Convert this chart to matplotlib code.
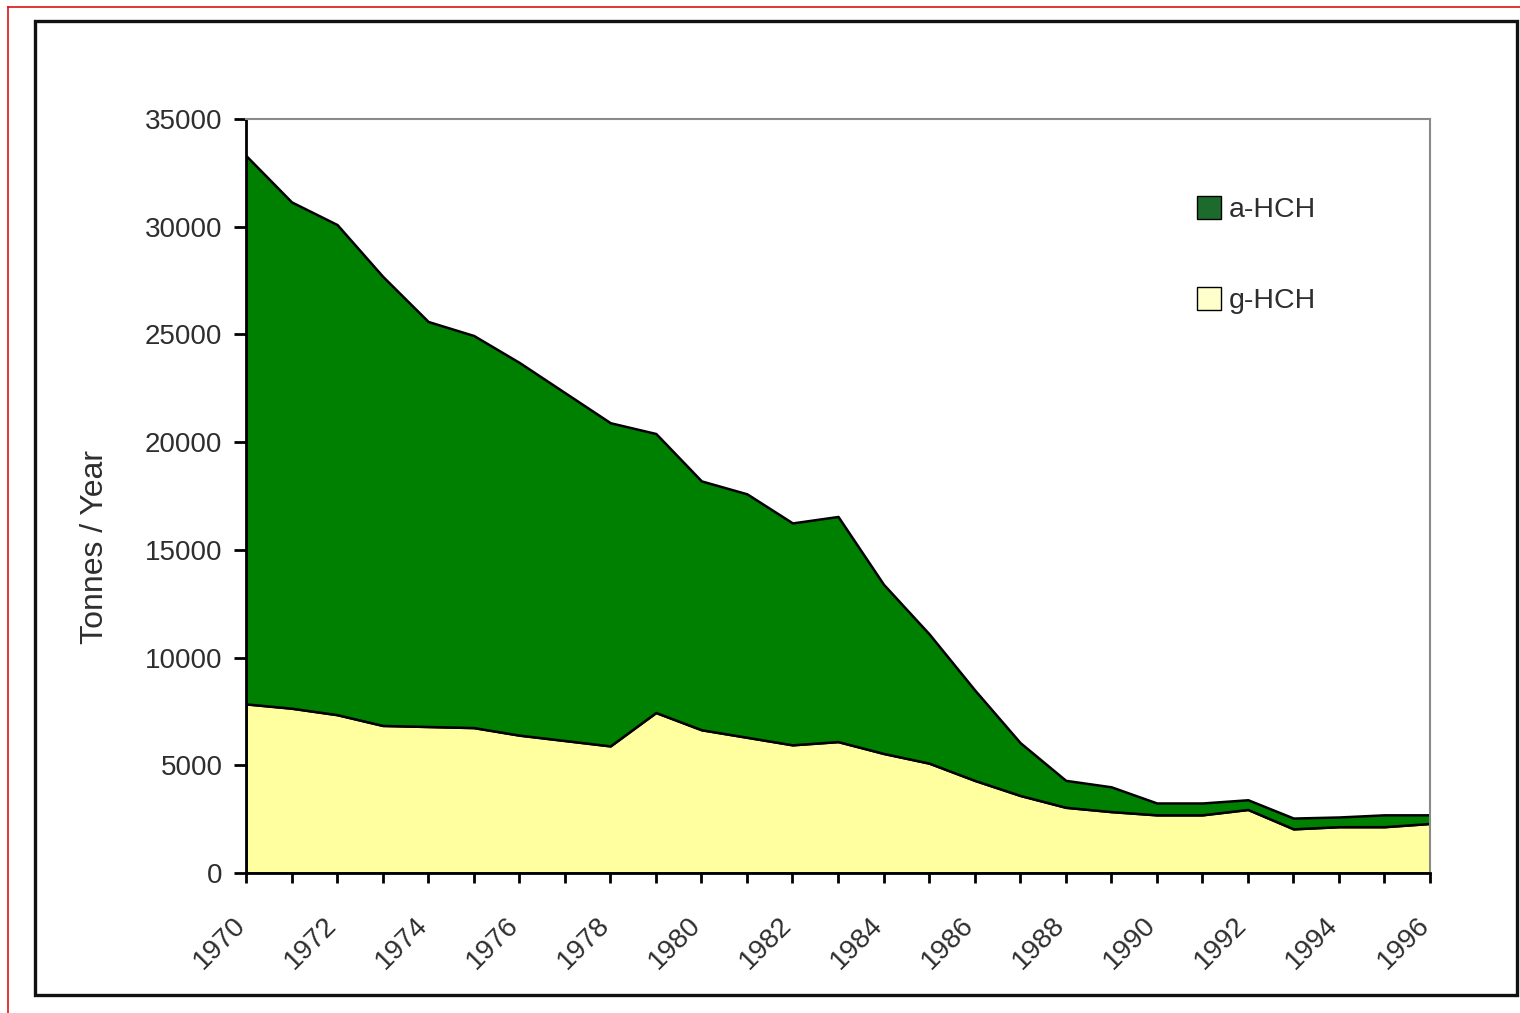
import matplotlib
matplotlib.use('Agg')
import matplotlib.pyplot as plt
import matplotlib.transforms as mtrans
from matplotlib.patches import Rectangle, Patch
from matplotlib.lines import Line2D

# Data (tonnes / year)
years = list(range(1970, 1997))
g_hch = [7850, 7650, 7350, 6850, 6800, 6750, 6400, 6150, 5900, 7450,
         6650, 6300, 5950, 6100, 5550, 5100, 4300, 3600, 3050, 2850,
         2700, 2700, 2950, 2050, 2150, 2150, 2300]
total = [33300, 31150, 30100, 27700, 25600, 24950, 23700, 22300, 20900, 20400,
         18200, 17600, 16250, 16550, 13400, 11100, 8500, 6050, 4300, 4000,
         3250, 3250, 3400, 2550, 2600, 2700, 2700]
a_hch = [t - g for t, g in zip(total, g_hch)]

y_ticks = [0, 5000, 10000, 15000, 20000, 25000, 30000, 35000]

W, H = 1520, 1013
text_col = '#2e2e2e'
green = '#008000'
yellow = '#ffff9f'


def px(x, y):
    # pixel coords (from top-left) to figure fraction
    return x / W, 1 - y / H


fig = plt.figure(figsize=(W / 100, H / 100), dpi=100)
plt.rcParams['font.family'] = ['Liberation Sans', 'DejaVu Sans']

# outer frame (red page border + black chart border)
fig.add_artist(Line2D([8 / W, 8 / W], [0, px(0, 7)[1]], color='#e01010', lw=1.2))
fig.add_artist(Line2D([8 / W, 1], [px(0, 7)[1]] * 2, color='#e01010', lw=1.2))
x0, y0 = px(35, 995)
fig.add_artist(Rectangle((x0, y0), (1517 - 35) / W, (995 - 21) / H,
                         fill=False, edgecolor='#111111', lw=2.4))

ax = fig.add_axes([246 / W, 1 - 873 / H, (1430 - 246) / W, (873 - 119) / H])
ax.stackplot(years, g_hch, a_hch, colors=[yellow, green],
             edgecolor='black', linewidth=1.8)

ax.set_xlim(1970, 1996)
ax.set_ylim(0, 35000)
ax.set_yticks(y_ticks)
ax.set_yticklabels([str(v) for v in y_ticks], fontsize=20, color=text_col)
ax.set_xticks(years)
ax.set_xticklabels([str(y) if y % 2 == 0 else '' for y in years],
                   rotation=45, ha='right', va='top', fontsize=20,
                   color=text_col, rotation_mode='anchor')
ax.tick_params(axis='y', direction='out', length=9, width=2, color='black', pad=8)
ax.tick_params(axis='x', direction='out', length=7, width=2, color='black', pad=21)

# rotated year labels sit a bit left of their ticks
shift = mtrans.ScaledTranslation(-14 / 100, 0, fig.dpi_scale_trans)
for lab in ax.get_xticklabels():
    lab.set_transform(lab.get_transform() + shift)

ax.spines['left'].set_linewidth(2)
ax.spines['bottom'].set_linewidth(2)
ax.spines['top'].set_color('#8a8a8a')
ax.spines['right'].set_color('#8a8a8a')
ax.spines['top'].set_linewidth(1.5)
ax.spines['right'].set_linewidth(1.5)

ax.set_ylabel('Tonnes / Year', fontsize=23, color=text_col)
ax.yaxis.set_label_coords(110 / W, 1 - 547 / H, transform=fig.transFigure)

handles = [Patch(facecolor='#1c6a2c', edgecolor='black', label='a-HCH'),
           Patch(facecolor='#ffffcc', edgecolor='black', label='g-HCH')]
ax.legend(handles=handles, loc='upper left', bbox_to_anchor=px(1197, 196),
          bbox_transform=fig.transFigure, borderpad=0, borderaxespad=0,
          frameon=False, fontsize=20.5, labelspacing=2.25, handlelength=0.85,
          handleheight=0.85, handletextpad=0.25, labelcolor=text_col)

fig.savefig('out.png', dpi=100)
